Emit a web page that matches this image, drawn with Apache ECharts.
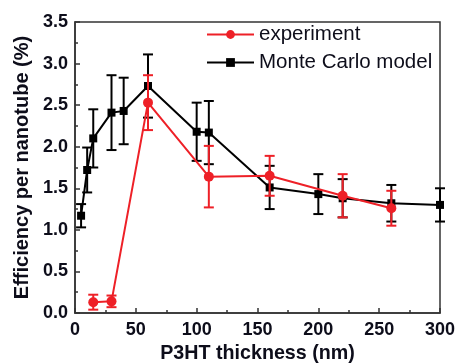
<!DOCTYPE html>
<html>
<head>
<meta charset="utf-8">
<script src="https://cdn.jsdelivr.net/npm/echarts@6/dist/echarts.min.js"></script>
<style>
  html, body { margin: 0; padding: 0; background: #fff; }
  #chart { width: 457px; height: 363px; }
</style>
</head>
<body>
<div id="chart"></div>
<script>
// P3HT thickness (nm)
const mcX = [5, 10, 15, 30, 40, 60, 100, 110, 160, 200, 220, 260, 300];
const mcY = [1.17, 1.72, 2.10, 2.41, 2.43, 2.73, 2.18, 2.17, 1.51, 1.43, 1.38, 1.32, 1.30];
const mcErr = [0.14, 0.27, 0.35, 0.45, 0.40, 0.38, 0.35, 0.38, 0.26, 0.24, 0.23, 0.22, 0.20];

const expX = [15, 30, 60, 110, 160, 220, 260];
const expY = [0.13, 0.14, 2.53, 1.64, 1.65, 1.41, 1.26];
const expErr = [0.09, 0.07, 0.33, 0.37, 0.24, 0.26, 0.21];

const RED = '#ee2027';
const BLACK = '#000';
const TXT = '#0d0d1a';

const pts = (xs, ys) => xs.map((x, i) => [x, ys[i]]);
const bars = (xs, ys, es) => xs.map((x, i) => [x, ys[i] - es[i], ys[i] + es[i]]);

function errBars(color) {
    return function (params, api) {
        const x = api.value(0);
        const lo = api.coord([x, api.value(1)]);
        const hi = api.coord([x, api.value(2)]);
        const w = 5;
        const style = { stroke: color, lineWidth: 2, fill: null };
        return {
            type: 'group',
            children: [
                { type: 'line', shape: { x1: lo[0], y1: lo[1], x2: hi[0], y2: hi[1] }, style },
                { type: 'line', shape: { x1: hi[0] - w, y1: hi[1], x2: hi[0] + w, y2: hi[1] }, style },
                { type: 'line', shape: { x1: lo[0] - w, y1: lo[1], x2: lo[0] + w, y2: lo[1] }, style }
            ]
        };
    };
}

const chart = echarts.init(document.getElementById('chart'), null, { renderer: 'canvas' });

const option = {
    animation: false,
    backgroundColor: '#fff',
    grid: {
        left: 75, right: 17, top: 22, bottom: 50,
        containLabel: false,
        outerBoundsMode: 'none',
        show: true, borderColor: '#333', borderWidth: 1.5, backgroundColor: 'transparent'
    },
    legend: {
        data: ['experiment', 'Monte Carlo model'],
        orient: 'vertical',
        left: 206,
        top: 24,
        padding: 0,
        itemWidth: 47,
        itemHeight: 11,
        itemGap: 7,
        textStyle: { fontFamily: 'Liberation Sans, Arial', fontSize: 20.5, color: TXT }
    },
    xAxis: {
        type: 'value',
        min: 0, max: 300, interval: 50,
        name: 'P3HT thickness (nm)',
        nameLocation: 'middle',
        nameGap: 28,
        nameTextStyle: { fontFamily: 'Liberation Sans, Arial', fontSize: 19.7, fontWeight: 'bold', color: TXT },
        axisLine: { show: true, lineStyle: { color: '#333', width: 1.5 } },
        axisTick: { show: true, inside: true, length: 5, lineStyle: { color: '#333', width: 1.5 } },
        minorTick: { show: true, splitNumber: 2, length: 3, lineStyle: { color: '#333', width: 1.5 } },
        axisLabel: { margin: 8, fontFamily: 'Liberation Sans, Arial', fontSize: 18, fontWeight: 'bold', color: TXT },
        splitLine: { show: false }
    },
    yAxis: {
        type: 'value',
        min: 0, max: 3.5, interval: 0.5,
        name: 'Efficiency per nanotube (%)',
        nameLocation: 'middle',
        nameGap: 40,
        nameTextStyle: { fontFamily: 'Liberation Sans, Arial', fontSize: 20, fontWeight: 'bold', color: TXT },
        axisLine: { show: true, lineStyle: { color: '#333', width: 1.5 } },
        axisTick: { show: true, inside: true, length: 5, lineStyle: { color: '#333', width: 1.5 } },
        minorTick: { show: true, splitNumber: 2, length: 3, lineStyle: { color: '#333', width: 1.5 } },
        axisLabel: {
            margin: 7, fontFamily: 'Liberation Sans, Arial', fontSize: 18, fontWeight: 'bold', color: TXT,
            formatter: v => v.toFixed(1)
        },
        splitLine: { show: false }
    },
    series: [
        {
            name: 'mc-err', type: 'custom', z: 2,
            renderItem: errBars(BLACK),
            encode: { x: 0, y: [1, 2] },
            data: bars(mcX, mcY, mcErr)
        },
        {
            name: 'Monte Carlo model', type: 'line', z: 3,
            data: pts(mcX, mcY),
            symbol: 'rect', symbolSize: 8,
            itemStyle: { color: BLACK },
            lineStyle: { color: BLACK, width: 2 }
        },
        {
            name: 'exp-err', type: 'custom', z: 4,
            renderItem: errBars(RED),
            encode: { x: 0, y: [1, 2] },
            data: bars(expX, expY, expErr)
        },
        {
            name: 'experiment', type: 'line', z: 5,
            data: pts(expX, expY),
            symbol: 'circle', symbolSize: 10,
            itemStyle: { color: RED },
            lineStyle: { color: RED, width: 2 }
        }
    ]
};

chart.setOption(option);
</script>
</body>
</html>
